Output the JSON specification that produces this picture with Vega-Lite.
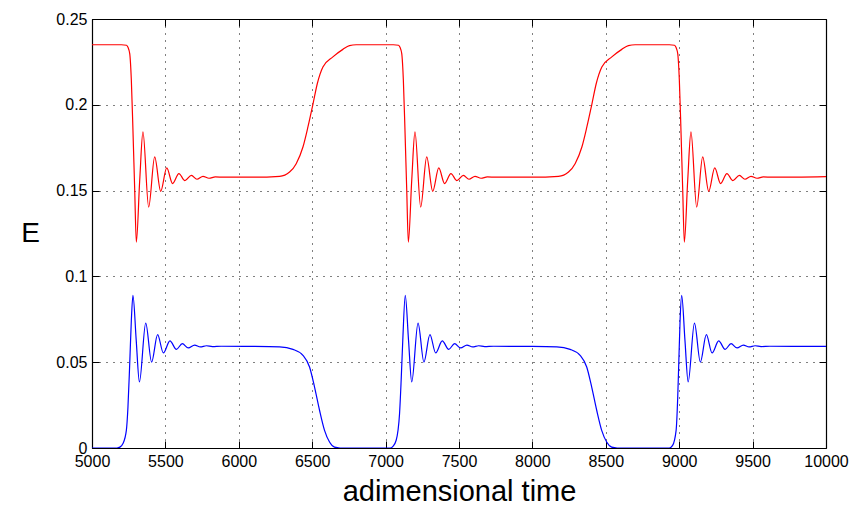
{
  "$schema": "https://vega.github.io/schema/vega-lite/v6.json",
  "width": 734,
  "height": 429,
  "autosize": {"type": "none"},
  "padding": {"left": 92, "top": 19, "right": 30, "bottom": 60},
  "background": "white",
  "config": {
    "view": {"stroke": null},
    "axis": {
      "labelFont": "Liberation Sans",
      "labelFontSize": 16,
      "labelColor": "black",
      "labelFlush": false,
      "labelOverlap": false,
      "titleFont": "Liberation Sans",
      "titleFontWeight": "normal",
      "titleColor": "black",
      "domainColor": "black",
      "domainWidth": 1.2,
      "tickColor": "black",
      "gridColor": "black",
      "gridDash": [1, 6],
      "gridOpacity": 1
    }
  },
  "data": {"values": [
    {"t":5000,"E":0.235,"s":"red"},{"t":5200,"E":0.235,"s":"red"},{"t":5235,"E":0.2347,"s":"red"},{"t":5245,"E":0.2335,"s":"red"},{"t":5257,"E":0.2298,"s":"red"},{"t":5268,"E":0.2143,"s":"red"},{"t":5279,"E":0.1851,"s":"red"},{"t":5291,"E":0.1502,"s":"red"},{"t":5302,"E":0.120,"s":"red"},{"t":5325,"E":0.156,"s":"red"},{"t":5347,"E":0.1842,"s":"red"},{"t":5386,"E":0.1404,"s":"red"},{"t":5427,"E":0.1696,"s":"red"},{"t":5468,"E":0.1496,"s":"red"},{"t":5509,"E":0.1632,"s":"red"},{"t":5549,"E":0.1541,"s":"red"},{"t":5592,"E":0.1599,"s":"red"},{"t":5633,"E":0.1558,"s":"red"},{"t":5677,"E":0.1589,"s":"red"},{"t":5715,"E":0.1566,"s":"red"},{"t":5756,"E":0.1583,"s":"red"},{"t":5797,"E":0.1572,"s":"red"},{"t":5840,"E":0.158,"s":"red"},{"t":5900,"E":0.1578,"s":"red"},{"t":6100,"E":0.1578,"s":"red"},{"t":6278,"E":0.1583,"s":"red"},{"t":6346,"E":0.1608,"s":"red"},{"t":6391,"E":0.1657,"s":"red"},{"t":6437,"E":0.1754,"s":"red"},{"t":6471,"E":0.1871,"s":"red"},{"t":6505,"E":0.2003,"s":"red"},{"t":6535,"E":0.2124,"s":"red"},{"t":6573,"E":0.222,"s":"red"},{"t":6641,"E":0.2279,"s":"red"},{"t":6709,"E":0.2323,"s":"red"},{"t":6754,"E":0.2345,"s":"red"},{"t":6800,"E":0.235,"s":"red"},
    {"t":7053,"E":0.235,"s":"red"},{"t":7088,"E":0.2347,"s":"red"},{"t":7098,"E":0.2335,"s":"red"},{"t":7110,"E":0.2298,"s":"red"},{"t":7121,"E":0.2143,"s":"red"},{"t":7132,"E":0.1851,"s":"red"},{"t":7144,"E":0.1502,"s":"red"},{"t":7155,"E":0.120,"s":"red"},{"t":7178,"E":0.156,"s":"red"},{"t":7200,"E":0.1842,"s":"red"},{"t":7239,"E":0.1404,"s":"red"},{"t":7280,"E":0.1696,"s":"red"},{"t":7321,"E":0.1496,"s":"red"},{"t":7362,"E":0.1632,"s":"red"},{"t":7402,"E":0.1541,"s":"red"},{"t":7445,"E":0.1599,"s":"red"},{"t":7486,"E":0.1558,"s":"red"},{"t":7530,"E":0.1589,"s":"red"},{"t":7568,"E":0.1566,"s":"red"},{"t":7609,"E":0.1583,"s":"red"},{"t":7650,"E":0.1572,"s":"red"},{"t":7693,"E":0.158,"s":"red"},{"t":7753,"E":0.1578,"s":"red"},{"t":8000,"E":0.1578,"s":"red"},{"t":8178,"E":0.1583,"s":"red"},{"t":8246,"E":0.1608,"s":"red"},{"t":8291,"E":0.1657,"s":"red"},{"t":8337,"E":0.1754,"s":"red"},{"t":8371,"E":0.1871,"s":"red"},{"t":8405,"E":0.2003,"s":"red"},{"t":8435,"E":0.2124,"s":"red"},{"t":8473,"E":0.222,"s":"red"},{"t":8541,"E":0.2279,"s":"red"},{"t":8609,"E":0.2323,"s":"red"},{"t":8654,"E":0.2345,"s":"red"},{"t":8700,"E":0.235,"s":"red"},
    {"t":8933,"E":0.235,"s":"red"},{"t":8968,"E":0.2347,"s":"red"},{"t":8978,"E":0.2335,"s":"red"},{"t":8990,"E":0.2298,"s":"red"},{"t":9001,"E":0.2143,"s":"red"},{"t":9012,"E":0.1851,"s":"red"},{"t":9024,"E":0.1502,"s":"red"},{"t":9035,"E":0.120,"s":"red"},{"t":9058,"E":0.156,"s":"red"},{"t":9080,"E":0.1842,"s":"red"},{"t":9119,"E":0.1404,"s":"red"},{"t":9160,"E":0.1696,"s":"red"},{"t":9201,"E":0.1496,"s":"red"},{"t":9242,"E":0.1632,"s":"red"},{"t":9282,"E":0.1541,"s":"red"},{"t":9325,"E":0.1599,"s":"red"},{"t":9366,"E":0.1558,"s":"red"},{"t":9410,"E":0.1589,"s":"red"},{"t":9448,"E":0.1566,"s":"red"},{"t":9489,"E":0.1583,"s":"red"},{"t":9530,"E":0.1572,"s":"red"},{"t":9573,"E":0.158,"s":"red"},{"t":9633,"E":0.1578,"s":"red"},{"t":10000,"E":0.1582,"s":"red"},
    {"t":5000,"E":0,"s":"blue"},{"t":5170,"E":0,"s":"blue"},{"t":5190,"E":0.0005,"s":"blue"},{"t":5211,"E":0.0026,"s":"blue"},{"t":5234,"E":0.0103,"s":"blue"},{"t":5245,"E":0.0239,"s":"blue"},{"t":5257,"E":0.0492,"s":"blue"},{"t":5268,"E":0.0744,"s":"blue"},{"t":5279,"E":0.089,"s":"blue"},{"t":5301,"E":0.063,"s":"blue"},{"t":5323,"E":0.0385,"s":"blue"},{"t":5366,"E":0.0728,"s":"blue"},{"t":5406,"E":0.0501,"s":"blue"},{"t":5447,"E":0.0661,"s":"blue"},{"t":5486,"E":0.0554,"s":"blue"},{"t":5531,"E":0.0624,"s":"blue"},{"t":5575,"E":0.0575,"s":"blue"},{"t":5615,"E":0.0608,"s":"blue"},{"t":5656,"E":0.0583,"s":"blue"},{"t":5699,"E":0.06,"s":"blue"},{"t":5738,"E":0.0589,"s":"blue"},{"t":5779,"E":0.0596,"s":"blue"},{"t":5820,"E":0.0591,"s":"blue"},{"t":5880,"E":0.0593,"s":"blue"},{"t":6100,"E":0.0592,"s":"blue"},{"t":6278,"E":0.0589,"s":"blue"},{"t":6369,"E":0.0575,"s":"blue"},{"t":6437,"E":0.054,"s":"blue"},{"t":6482,"E":0.0472,"s":"blue"},{"t":6516,"E":0.0355,"s":"blue"},{"t":6550,"E":0.022,"s":"blue"},{"t":6584,"E":0.0103,"s":"blue"},{"t":6618,"E":0.0035,"s":"blue"},{"t":6652,"E":0.0005,"s":"blue"},{"t":6690,"E":0,"s":"blue"},
    {"t":7030,"E":0,"s":"blue"},{"t":7050,"E":0.001,"s":"blue"},{"t":7072,"E":0.0045,"s":"blue"},{"t":7095,"E":0.02,"s":"blue"},{"t":7106,"E":0.0395,"s":"blue"},{"t":7117,"E":0.0628,"s":"blue"},{"t":7134,"E":0.089,"s":"blue"},{"t":7156,"E":0.063,"s":"blue"},{"t":7178,"E":0.0385,"s":"blue"},{"t":7221,"E":0.0728,"s":"blue"},{"t":7261,"E":0.0501,"s":"blue"},{"t":7302,"E":0.0661,"s":"blue"},{"t":7341,"E":0.0554,"s":"blue"},{"t":7386,"E":0.0624,"s":"blue"},{"t":7430,"E":0.0575,"s":"blue"},{"t":7470,"E":0.0608,"s":"blue"},{"t":7511,"E":0.0583,"s":"blue"},{"t":7554,"E":0.06,"s":"blue"},{"t":7593,"E":0.0589,"s":"blue"},{"t":7634,"E":0.0596,"s":"blue"},{"t":7675,"E":0.0591,"s":"blue"},{"t":7735,"E":0.0593,"s":"blue"},{"t":8000,"E":0.0592,"s":"blue"},{"t":8166,"E":0.0589,"s":"blue"},{"t":8257,"E":0.0575,"s":"blue"},{"t":8325,"E":0.054,"s":"blue"},{"t":8370,"E":0.0472,"s":"blue"},{"t":8404,"E":0.0355,"s":"blue"},{"t":8438,"E":0.022,"s":"blue"},{"t":8472,"E":0.0103,"s":"blue"},{"t":8506,"E":0.0035,"s":"blue"},{"t":8540,"E":0.0005,"s":"blue"},{"t":8578,"E":0,"s":"blue"},
    {"t":8933,"E":0,"s":"blue"},{"t":8955,"E":0.0015,"s":"blue"},{"t":8979,"E":0.0103,"s":"blue"},{"t":8990,"E":0.0297,"s":"blue"},{"t":8997,"E":0.0492,"s":"blue"},{"t":9006,"E":0.0744,"s":"blue"},{"t":9017,"E":0.089,"s":"blue"},{"t":9039,"E":0.063,"s":"blue"},{"t":9061,"E":0.0385,"s":"blue"},{"t":9104,"E":0.0728,"s":"blue"},{"t":9144,"E":0.0501,"s":"blue"},{"t":9185,"E":0.0661,"s":"blue"},{"t":9224,"E":0.0554,"s":"blue"},{"t":9269,"E":0.0624,"s":"blue"},{"t":9313,"E":0.0575,"s":"blue"},{"t":9353,"E":0.0608,"s":"blue"},{"t":9394,"E":0.0583,"s":"blue"},{"t":9437,"E":0.06,"s":"blue"},{"t":9476,"E":0.0589,"s":"blue"},{"t":9517,"E":0.0596,"s":"blue"},{"t":9558,"E":0.0591,"s":"blue"},{"t":9618,"E":0.0593,"s":"blue"},{"t":10000,"E":0.0592,"s":"blue"}
  ]},
  "layer": [
    {
      "mark": {"type": "line", "interpolate": "monotone", "strokeWidth": 1.2, "clip": true},
      "encoding": {
        "x": {"field": "t", "type": "quantitative",
          "scale": {"domain": [5000, 10000], "nice": false, "zero": false},
          "axis": {"orient": "bottom", "values": [5000,5500,6000,6500,7000,7500,8000,8500,9000,9500,10000], "format": "d",
            "grid": true, "tickSize": -7, "labelPadding": 12, "domain": true,
            "title": "adimensional time", "titleFontSize": 29, "titleBaseline": "alphabetic", "titleY": 52}},
        "y": {"field": "E", "type": "quantitative",
          "scale": {"domain": [0, 0.25], "nice": false},
          "axis": {"orient": "left", "values": [0,0.05,0.1,0.15,0.2,0.25], "format": "~g",
            "grid": true, "tickSize": -7, "labelPadding": 12, "domain": true,
            "title": "E", "titleFontSize": 28, "titleAngle": 0, "titleBaseline": "middle", "titleAlign": "center", "titleX": -62, "titleY": 214}},
        "color": {"field": "s", "type": "nominal", "scale": {"domain": ["red", "blue"], "range": ["#ff0000", "#0000ff"]}, "legend": null},
        "detail": {"field": "s"}
      }
    },
    {
      "mark": {"type": "line", "opacity": 0},
      "encoding": {
        "x": {"field": "t", "type": "quantitative",
          "axis": {"orient": "top", "values": [5000,5500,6000,6500,7000,7500,8000,8500,9000,9500,10000],
            "grid": false, "labels": false, "tickSize": -7, "domain": true, "title": null}},
        "y": {"field": "E", "type": "quantitative",
          "axis": {"orient": "right", "values": [0,0.05,0.1,0.15,0.2,0.25],
            "grid": false, "labels": false, "tickSize": -7, "domain": true, "title": null}},
        "detail": {"field": "s"}
      }
    }
  ],
  "resolve": {"axis": {"x": "independent", "y": "independent"}}
}
